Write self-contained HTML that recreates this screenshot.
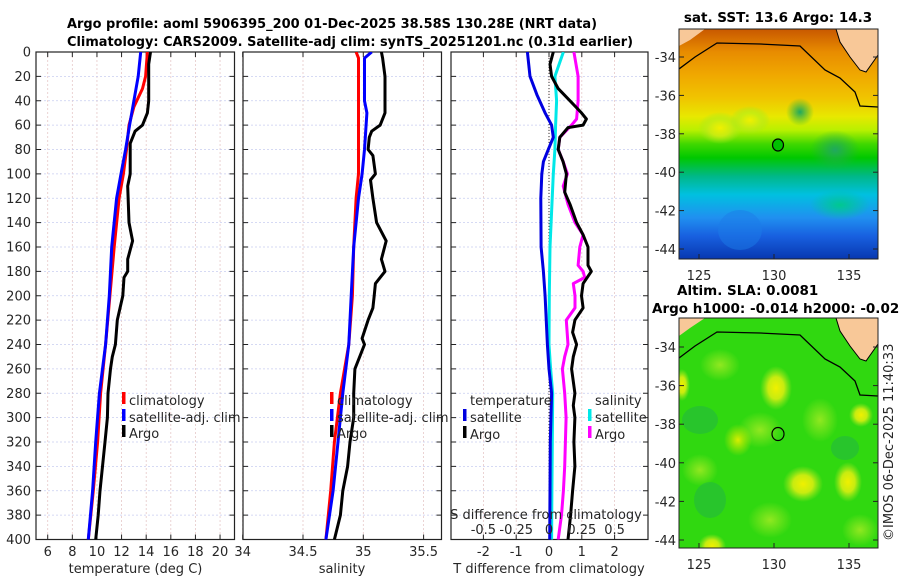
<!DOCTYPE html>
<html><head><meta charset="utf-8">
<style>
html,body{margin:0;padding:0;background:#fff;}
svg{display:block;font-family:"DejaVu Sans","Liberation Sans",sans-serif;}
.tk{font-size:13px;fill:#262626;}
.ttl{font-size:13.5px;font-weight:bold;fill:#000;}
</style></head>
<body>
<svg id="fig" width="900" height="580" viewBox="0 0 900 580" xmlns="http://www.w3.org/2000/svg">
<defs>
<clipPath id="c1"><rect x="36" y="52" width="198.5" height="487.5"/></clipPath>
<clipPath id="c2"><rect x="243" y="52" width="198.5" height="487.5"/></clipPath>
<clipPath id="c3"><rect x="451" y="52" width="197" height="487.5"/></clipPath>
<clipPath id="cm1"><rect x="679" y="29" width="199" height="230"/></clipPath>
<clipPath id="cm2"><rect x="679" y="318" width="199" height="230"/></clipPath>
<linearGradient id="sstg" x1="0" y1="29" x2="0" y2="259" gradientUnits="userSpaceOnUse">
<stop offset="0" stop-color="#c85800"/><stop offset="0.1" stop-color="#e88c00"/>
<stop offset="0.2" stop-color="#f0a800"/><stop offset="0.3" stop-color="#f0c400"/>
<stop offset="0.38" stop-color="#e8e800"/><stop offset="0.44" stop-color="#b8f000"/>
<stop offset="0.5" stop-color="#40d800"/><stop offset="0.56" stop-color="#00c800"/>
<stop offset="0.64" stop-color="#00b888"/><stop offset="0.72" stop-color="#00c0e0"/>
<stop offset="0.82" stop-color="#2090f0"/><stop offset="0.9" stop-color="#1860e0"/>
<stop offset="1" stop-color="#0838b0"/>
</linearGradient>
<radialGradient id="yb"><stop offset="0" stop-color="#f0f000"/><stop offset="0.5" stop-color="#c8ec10"/><stop offset="1" stop-color="#a0e820" stop-opacity="0"/></radialGradient>
<radialGradient id="lb"><stop offset="0" stop-color="#90e820"/><stop offset="1" stop-color="#90e820" stop-opacity="0"/></radialGradient>
<radialGradient id="gb"><stop offset="0" stop-color="#20a860"/><stop offset="1" stop-color="#20b040" stop-opacity="0"/></radialGradient>
<radialGradient id="sy"><stop offset="0" stop-color="#d8ee00"/><stop offset="1" stop-color="#c8ec00" stop-opacity="0"/></radialGradient>
<radialGradient id="sg"><stop offset="0" stop-color="#00c890"/><stop offset="1" stop-color="#00c890" stop-opacity="0"/></radialGradient>
</defs>

<text class="ttl" x="67" y="28" textLength="530" lengthAdjust="spacingAndGlyphs">Argo profile: aoml 5906395_200 01-Dec-2025 38.58S 130.28E (NRT data)</text>
<text class="ttl" x="67" y="46" textLength="566" lengthAdjust="spacingAndGlyphs">Climatology: CARS2009. Satellite-adj clim: synTS_20251201.nc (0.31d earlier)</text>

<g id="p1"></g>
<g id="p2"></g>
<g id="p3"></g>

<g>
<text class="ttl" x="778" y="22" text-anchor="middle">sat. SST: 13.6 Argo: 14.3</text>
<g clip-path="url(#cm1)">
<rect x="679" y="29" width="199" height="230" fill="url(#sstg)"/>
<ellipse cx="720" cy="128" rx="22" ry="16" fill="url(#yb)"/>
<ellipse cx="750" cy="120" rx="20" ry="14" fill="url(#yb)"/>
<ellipse cx="800" cy="112" rx="14" ry="14" fill="url(#gb)"/>
<ellipse cx="835" cy="150" rx="25" ry="20" fill="url(#gb)"/>
<ellipse cx="840" cy="205" rx="30" ry="15" fill="url(#sg)"/>
<ellipse cx="740" cy="230" rx="22" ry="20" fill="#1c7ce8" opacity="0.5"/>
<path d="M679,29 L705,29 L690,40 L679,46 Z" fill="#f8c898"/>
<path d="M836,29 L878,29 L878,55 L866,72 L860,70 L850,57 L840,42 Z" fill="#f8c898"/>
<path d="M679,69 L695,57 L717,43 L760,44 L800,46 L825,70 L840,78 L855,92 L860,106 L878,107" fill="none" stroke="#000" stroke-width="1.3"/>
<path d="M836,29 L840,42 L850,57 L860,70 L866,72 L878,55" fill="none" stroke="#000" stroke-width="1"/>
<ellipse cx="778" cy="145" rx="5.5" ry="6" fill="#00c000" stroke="#000" stroke-width="1.2"/>
</g>
<rect x="679" y="29" width="199" height="230" fill="none" stroke="#222" stroke-width="1"/>
</g>

<g>
<text class="ttl" x="677" y="295">Altim. SLA: 0.0081</text>
<text class="ttl" x="652" y="313">Argo h1000: -0.014 h2000: -0.029</text>
<g clip-path="url(#cm2)">
<rect x="679" y="318" width="199" height="230" fill="#30d810"/>
<ellipse cx="720" cy="365" rx="20" ry="16" fill="url(#lb)"/>
<ellipse cx="760" cy="430" rx="22" ry="18" fill="url(#lb)"/>
<ellipse cx="820" cy="420" rx="18" ry="22" fill="url(#lb)"/>
<ellipse cx="700" cy="470" rx="18" ry="16" fill="url(#lb)"/>
<ellipse cx="770" cy="520" rx="22" ry="18" fill="url(#lb)"/>
<ellipse cx="860" cy="530" rx="18" ry="16" fill="url(#lb)"/>
<ellipse cx="776" cy="388" rx="16" ry="22" fill="url(#yb)"/>
<ellipse cx="803" cy="484" rx="20" ry="18" fill="url(#yb)"/>
<ellipse cx="848" cy="482" rx="14" ry="20" fill="url(#yb)"/>
<ellipse cx="861" cy="415" rx="12" ry="12" fill="url(#yb)"/>
<ellipse cx="682" cy="385" rx="8" ry="16" fill="url(#yb)"/>
<ellipse cx="712" cy="546" rx="14" ry="12" fill="url(#yb)"/>
<ellipse cx="738" cy="440" rx="14" ry="16" fill="url(#sy)"/>
<ellipse cx="700" cy="420" rx="18" ry="14" fill="#20b050" opacity="0.45"/>
<ellipse cx="710" cy="500" rx="16" ry="18" fill="#20b050" opacity="0.45"/>
<ellipse cx="845" cy="448" rx="14" ry="12" fill="#20b050" opacity="0.45"/>
<path d="M679,318 L705,318 L690,328 L679,336 Z" fill="#f8c898"/>
<path d="M836,318 L878,318 L878,344 L866,361 L860,359 L850,346 L840,331 Z" fill="#f8c898"/>
<path d="M679,358 L695,346 L717,332 L760,333 L800,335 L825,359 L840,367 L855,381 L860,395 L878,396" fill="none" stroke="#000" stroke-width="1.3"/>
<path d="M836,318 L840,331 L850,346 L860,359 L866,361 L878,344" fill="none" stroke="#000" stroke-width="1"/>
<ellipse cx="778" cy="434" rx="6" ry="6.5" fill="none" stroke="#000" stroke-width="1.2"/>
</g>
<rect x="679" y="318" width="199" height="230" fill="none" stroke="#222" stroke-width="1"/>
</g>
<g id="maxes"></g>
<text class="tk" transform="translate(893,541) rotate(-90)">©IMOS 06-Dec-2025 11:40:33</text>
</svg>

<script>
const tDepth = [0,10,40,50,60,65,75,100,110,140,155,170,180,185,200,220,240,250,260,280,300,320,340,360,380,400];
const tArgo  = [14.35,14.2,14.2,14.1,13.7,13.1,12.7,12.7,12.5,12.6,12.9,12.5,12.5,12.2,12.1,11.65,11.5,11.25,11.1,10.9,10.85,10.65,10.45,10.25,10.1,9.9];
const climDepth = [0,20,30,45,60,80,100,120,160,200,240,280,320,360,400];
const tClim = [14.1,13.95,13.7,13.0,12.6,12.4,12.15,11.8,11.4,11.05,10.7,10.3,10.05,9.7,9.3];
const satDepth = [0,20,40,60,80,100,120,160,200,240,280,320,360,400];
const tSat  = [13.55,13.35,13.0,12.65,12.33,11.95,11.6,11.2,11.0,10.7,10.2,9.9,9.65,9.3];

const sArgoDepth = [0,5,20,50,60,65,70,80,85,100,105,120,140,155,170,180,190,200,210,220,235,240,260,280,300,320,340,360,380,400];
const sArgo = [35.15,35.16,35.18,35.18,35.14,35.07,35.05,35.04,35.08,35.1,35.06,35.08,35.11,35.19,35.15,35.18,35.1,35.09,35.08,35.04,34.99,35.01,34.93,34.92,34.92,34.89,34.87,34.83,34.81,34.76];
const sClimDepth = [0,5,100,120,160,200,240,280,320,360,400];
const sClim = [34.94,34.96,34.96,34.94,34.92,34.91,34.88,34.81,34.76,34.73,34.69];
const sSatDepth = [0,5,40,50,80,100,120,160,200,240,280,320,360,400];
const sSat = [35.07,35.01,35.01,35.03,35.01,34.99,34.96,34.92,34.9,34.88,34.83,34.79,34.75,34.69];

const dTSatDepth = [0,20,35,50,60,70,80,90,100,120,160,180,200,240,260,280,320,360,400];
const dTSat = [-0.66,-0.58,-0.37,-0.12,0.08,0.13,-0.02,-0.17,-0.22,-0.25,-0.24,-0.17,-0.12,-0.05,0,0.08,0.04,0.03,0.02];
const dSSatDepth = [0,20,40,60,80,100,160,200,240,260,280,320,360,400];
const dSSat = [0.11,0.045,0.058,0.05,0.045,0.033,0.008,0.002,0,0.012,0.028,0.025,0.022,0.02];
const dTArgoDepth = [0,10,20,30,40,50,55,60,62,70,80,90,100,115,125,140,150,160,175,180,190,200,210,220,230,240,250,260,280,290,300,320,340,360,380,400];
const dTArgo = [0.13,0.03,0.08,0.28,0.64,0.99,1.14,1.04,0.58,0.33,0.28,0.43,0.53,0.48,0.64,0.84,1.04,1.19,1.19,1.29,1.04,0.99,1.04,0.79,0.72,0.84,0.74,0.69,0.79,0.74,0.79,0.76,0.79,0.72,0.66,0.58];
const dSArgoDepth = [0,20,40,55,60,70,80,90,100,110,125,140,150,160,175,180,185,190,200,210,220,240,250,260,280,300,320,340,360,380,400];
const dSArgo = [0.19,0.222,0.222,0.21,0.172,0.082,0.07,0.108,0.14,0.108,0.145,0.198,0.26,0.235,0.222,0.26,0.272,0.185,0.198,0.198,0.132,0.145,0.12,0.102,0.12,0.13,0.125,0.12,0.11,0.095,0.07];

const depthTicks = [0,20,40,60,80,100,120,140,160,180,200,220,240,260,280,300,320,340,360,380,400];
const tTicks = [6,8,10,12,14,16,18,20];
const sTicks = [34,34.5,35,35.5];
const sTickLabels = ["34","34.5","35","35.5"];
const dTTicks = [-2,-1,0,1,2];
const dSTicks = [-0.5,-0.25,0,0.25,0.5];
const dSTickLabels = ["-0.5","-0.25","0","0.25","0.5"];
const latTicks = [-34,-36,-38,-40,-42,-44];
const lonTicks = [125,130,135];

const Y0=52, Y1=539.5;
const yD = d => Y0 + d*(Y1-Y0)/400;
const xT = t => 35.4 + (t-5)*12.31;
const xS = s => 242.7 + (s-34)*120.6;
const xDT = v => 549 + v*32.8;
const xDS = v => 549 + v*131.2;
const NS='http://www.w3.org/2000/svg';
function mk(tag, attrs, parent){const e=document.createElementNS(NS,tag);for(const k in attrs)e.setAttribute(k,attrs[k]);parent.appendChild(e);return e;}

function panel(g, x0, x1, xticks, xfun, clip){
  xticks.forEach(t=>{const x=xfun(t);
    const l=mk('line',{x1:x,x2:x,y1:Y0,y2:Y1,stroke:'#e6c8c8','stroke-width':0.8,'stroke-dasharray':'2,2'},g);
    
    
  });
  depthTicks.forEach(d=>{const y=yD(d);
    const l=mk('line',{x1:x0,x2:x1,y1:y,y2:y,stroke:'#c8cdf0','stroke-width':0.8,'stroke-dasharray':'2,2'},g);
    
    
    mk('line',{x1:x0,x2:x0+5,y1:y,y2:y,stroke:'#222','stroke-width':1},g);
    mk('line',{x1:x1-5,x2:x1,y1:y,y2:y,stroke:'#222','stroke-width':1},g);
  });
  xticks.forEach(t=>{const x=xfun(t);
    mk('line',{x1:x,x2:x,y1:Y1,y2:Y1-5,stroke:'#222','stroke-width':1},g);
    mk('line',{x1:x,x2:x,y1:Y0,y2:Y0+5,stroke:'#222','stroke-width':1},g);
  });
  const r=mk('rect',{x:x0,y:Y0,width:x1-x0,height:Y1-Y0,fill:'none',stroke:'#222','stroke-width':1.2},g);
  
  
}
function series(g, depths, vals, xfun, color, name, clip, w){
  const pts=vals.map((v,i)=>xfun(v).toFixed(1)+','+yD(depths[i]).toFixed(1)).join(' ');
  const p=mk('polyline',{points:pts,fill:'none',stroke:color,'stroke-width':w||3,'stroke-linejoin':'round','clip-path':'url(#'+clip+')'},g);
  
  
}
function txt(g, x, y, s, anchor, name, size){
  const t=mk('text',{x:x,y:y,'text-anchor':anchor||'start',class:'tk'},g);
  if(size) t.setAttribute('style','font-size:'+size+'px');
  t.textContent=s;
  
  
  return t;
}
function legendMark(g,x,y,color,name){
  const r=mk('rect',{x:x,y:y-12,width:3.5,height:12,fill:color},g);
  
  
}

const g1=document.getElementById('p1');
panel(g1,36,234.5,tTicks,xT,'c1');
series(g1,climDepth,tClim,xT,'#ff0000','temperature-climatology-line','c1');
series(g1,satDepth,tSat,xT,'#0000ff','temperature-satellite-line','c1');
series(g1,tDepth,tArgo,xT,'#000000','temperature-argo-line','c1');
depthTicks.forEach(d=>txt(g1,31,yD(d)+4.5,String(d),'end','depth-tick-label'));
tTicks.forEach(t=>txt(g1,xT(t),556,String(t),'middle','temperature-tick-label'));
txt(g1,135.5,573,'temperature (deg C)','middle','x-axis-title-temperature');
legendMark(g1,122,404,'#ff0000','legend-marker-climatology');
legendMark(g1,122,421,'#0000ff','legend-marker-satellite');
legendMark(g1,122,437,'#000','legend-marker-argo');
txt(g1,129,405,'climatology','start','legend-climatology');
txt(g1,129,422,'satellite-adj. clim','start','legend-satellite-adj-clim');
txt(g1,129,438,'Argo','start','legend-argo');

const g2=document.getElementById('p2');
panel(g2,243,441.5,sTicks,xS,'c2');
series(g2,sClimDepth,sClim,xS,'#ff0000','salinity-climatology-line','c2');
series(g2,sSatDepth,sSat,xS,'#0000ff','salinity-satellite-line','c2');
series(g2,sArgoDepth,sArgo,xS,'#000000','salinity-argo-line','c2');
sTicks.forEach((t,i)=>txt(g2,xS(t),556,sTickLabels[i],'middle','salinity-tick-label'));
txt(g2,342,573,'salinity','middle','x-axis-title-salinity');
legendMark(g2,330,404,'#ff0000','legend-marker-climatology');
legendMark(g2,330,421,'#0000ff','legend-marker-satellite');
legendMark(g2,330,437,'#000','legend-marker-argo');
txt(g2,337,405,'climatology','start','legend-climatology');
txt(g2,337,422,'satellite-adj. clim','start','legend-satellite-adj-clim');
txt(g2,337,438,'Argo','start','legend-argo');

const g3=document.getElementById('p3');
panel(g3,451,648,dTTicks,xDT,'c3');
mk('line',{x1:xDT(0),x2:xDT(0),y1:Y0,y2:Y1,stroke:'#333','stroke-width':1,'stroke-dasharray':'1,2'},g3);
series(g3,dSSatDepth,dSSat,xDS,'#00e8e8','salinity-diff-satellite-line','c3');
series(g3,dTSatDepth,dTSat,xDT,'#0000e0','temperature-diff-satellite-line','c3');
series(g3,dSArgoDepth,dSArgo,xDS,'#ff00ff','salinity-diff-argo-line','c3');
series(g3,dTArgoDepth,dTArgo,xDT,'#000000','temperature-diff-argo-line','c3');
dTTicks.forEach(t=>txt(g3,xDT(t),556,String(t),'middle','t-diff-tick-label'));
txt(g3,549,573,'T difference from climatology','middle','x-axis-title-t-difference');
dSTicks.forEach((t,i)=>txt(g3,xDS(t),534,dSTickLabels[i],'middle','s-diff-tick-label'));
txt(g3,546,519,'S difference from climatology','middle','s-difference-axis-title');
txt(g3,470,405,'temperature','start','legend-temperature-heading');
txt(g3,595,405,'salinity','start','legend-salinity-heading');
legendMark(g3,463,421,'#0000e0','legend-marker-t-satellite');
legendMark(g3,463,438,'#000','legend-marker-t-argo');
txt(g3,470,422,'satellite','start','legend-t-satellite');
txt(g3,470,439,'Argo','start','legend-t-argo');
legendMark(g3,588,421,'#00e8e8','legend-marker-s-satellite');
legendMark(g3,588,438,'#ff00ff','legend-marker-s-argo');
txt(g3,595,422,'satellite','start','legend-s-satellite');
txt(g3,595,439,'Argo','start','legend-s-argo');

const gm=document.getElementById('maxes');
const lonX = lon => 699 + (lon-125)*15;
const latY1 = lat => 57 + (-34-lat)*19.2;
const latY2 = lat => 347 + (-34-lat)*19.3;
[[latY1,259,276],[latY2,548,565]].forEach(([fy,yb,ylab])=>{
  latTicks.forEach(l=>{const y=fy(l);
    mk('line',{x1:679,x2:684,y1:y,y2:y,stroke:'#222'},gm);
    mk('line',{x1:873,x2:878,y1:y,y2:y,stroke:'#222'},gm);
    txt(gm,676,y+5,String(l),'end','latitude-tick-label');
  });
  lonTicks.forEach(l=>{const x=lonX(l);
    mk('line',{x1:x,x2:x,y1:yb,y2:yb-5,stroke:'#222'},gm);
    txt(gm,x,ylab+4,String(l),'middle','longitude-tick-label');
  });
});
</script>
</body></html>
